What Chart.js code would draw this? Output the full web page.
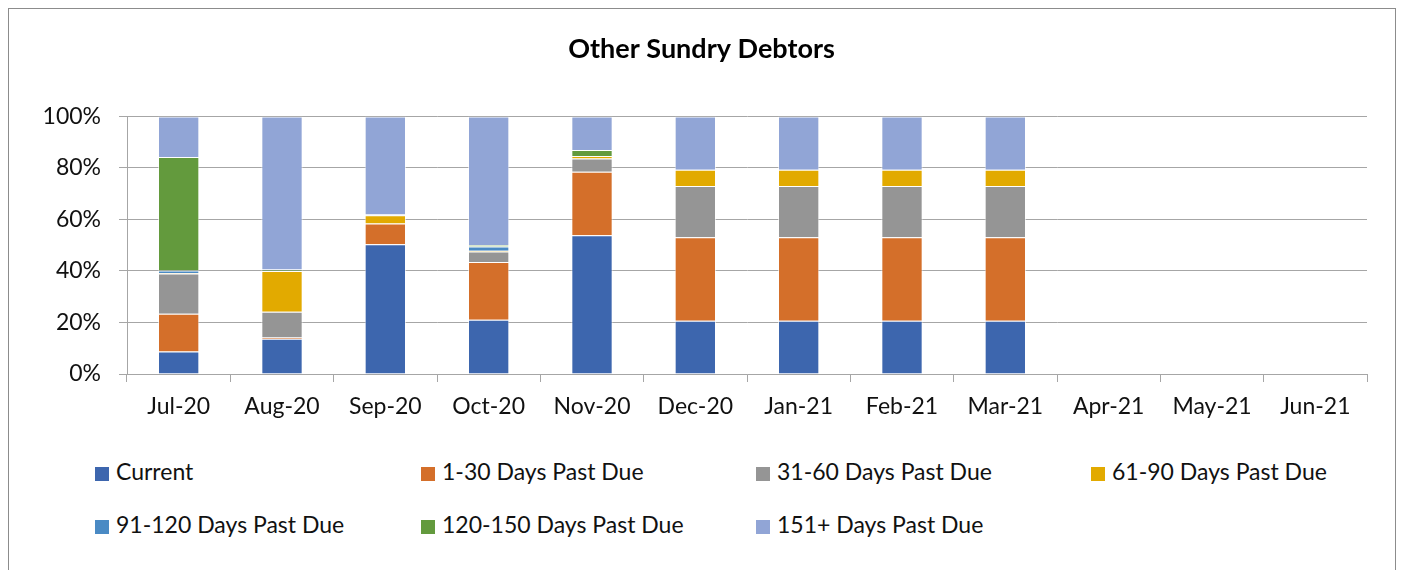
<!DOCTYPE html>
<html>
<head>
<meta charset="utf-8">
<script src="https://cdn.jsdelivr.net/npm/chart.js@4.4.0/dist/chart.umd.min.js"></script>
<style>
  body { margin: 0; background: #fff; font-family: Lato, "Open Sans", sans-serif; }
  #frame { position: absolute; left: 8px; top: 8px; width: 1388px; height: 570px; border: 1px solid #8c8c8c; box-sizing: border-box; }
  #wrap { position: absolute; left: 0; top: 0; width: 1403px; height: 440px; }
  #legend { position: absolute; left: 0; top: 450px; width: 1403px; }
  .item { position: absolute; font-size: 23px; color: #111; white-space: nowrap; line-height: 26px; }
  .item span.box { display: inline-block; width: 14px; height: 14px; margin-right: 7px; vertical-align: -1px; }
</style>
</head>
<body>
<div id="frame"></div>
<div id="wrap"><canvas id="chart"></canvas></div>
<div id="legend"></div>
<script>
var months = ['Jul-20', 'Aug-20', 'Sep-20', 'Oct-20', 'Nov-20', 'Dec-20', 'Jan-21', 'Feb-21', 'Mar-21', 'Apr-21', 'May-21', 'Jun-21'];
var yTicks = ['0%', '20%', '40%', '60%', '80%', '100%'];

// shares of total, in percent
var current     = [8.7, 13.7, 50.4, 21.1, 53.9, 20.7, 20.7, 20.7, 20.7, null, null, null];
var days1to30   = [14.7, 0.5, 8.0, 22.4, 24.6, 32.4, 32.4, 32.4, 32.4, null, null, null];
var days31to60  = [15.6, 10.0, 0, 4.1, 5.2, 19.9, 19.9, 19.9, 19.9, null, null, null];
var days61to90  = [0.2, 15.8, 3.2, 0.2, 0.9, 6.3, 6.3, 6.3, 6.3, null, null, null];
var days91to120 = [1.0, 0.1, 0.3, 1.7, 0, 0, 0, 0, 0, null, null, null];
var days120to150 = [44.0, 0.5, 0, 0.6, 2.4, 0, 0, 0, 0, null, null, null];
var days151plus = [15.8, 59.4, 38.1, 49.9, 13.0, 20.7, 20.7, 20.7, 20.7, null, null, null];

var seriesNames = ['Current', '1-30 Days Past Due', '31-60 Days Past Due', '61-90 Days Past Due',
  '91-120 Days Past Due', '120-150 Days Past Due', '151+ Days Past Due'];
var seriesData = [current, days1to30, days31to60, days61to90, days91to120, days120to150, days151plus];
var seriesColors = ['#3d66ae', '#d46f2a', '#959595', '#e2aa00', '#4a8ac4', '#639a3d', '#91a5d6'];

var datasets = seriesNames.map(function (name, i) {
  return {
    label: name,
    data: seriesData[i],
    backgroundColor: seriesColors[i],
    borderColor: 'rgba(255,255,255,0.6)',
    borderWidth: 1,
    barPercentage: 0.4,
    categoryPercentage: 1.0
  };
});

new Chart(document.getElementById('chart'), {
  type: 'bar',
  data: { labels: months, datasets: datasets },
  options: {
    responsive: true,
    maintainAspectRatio: false,
    animation: false,
    // symmetric side padding keeps the title centred on the frame
    layout: { padding: { left: 36, right: 36, top: 0, bottom: 0 } },
    plugins: {
      legend: { display: false },
      tooltip: { enabled: false },
      title: {
        display: true,
        text: 'Other Sundry Debtors',
        color: '#000',
        font: { family: 'Lato', size: 27, weight: 'bold' },
        padding: { top: 33, bottom: 51 }
      }
    },
    scales: {
      x: {
        stacked: true,
        grid: { display: true, drawOnChartArea: false, drawTicks: true, tickLength: 8, color: '#a6a6a6', offset: true },
        border: { color: '#a6a6a6' },
        ticks: { color: '#111', padding: 11, font: { family: 'Lato', size: 23 }, maxRotation: 0 },
        afterFit: function (scale) { scale.height = 66; }
      },
      y: {
        stacked: true,
        min: 0,
        max: 100,
        grid: { color: '#a6a6a6', drawTicks: true, tickLength: 8 },
        border: { color: '#a6a6a6' },
        ticks: {
          stepSize: 20,
          color: '#111',
          padding: 18,
          font: { family: 'Lato', size: 23 },
          callback: function (v, i) { return yTicks[i]; }
        },
        afterFit: function (scale) { scale.width = 91; }
      }
    }
  }
});

// legend laid out as in the original: four columns, two rows
var legendCols = [95, 421, 756, 1091];
var legend = document.getElementById('legend');
seriesNames.forEach(function (name, i) {
  var el = document.createElement('div');
  el.className = 'item';
  el.style.left = legendCols[i % 4] + 'px';
  el.style.top = (i < 4 ? 8 : 61) + 'px';
  el.innerHTML = '<span class="box" style="background:' + seriesColors[i] + '"></span>' + name;
  legend.appendChild(el);
});
</script>
</body>
</html>
